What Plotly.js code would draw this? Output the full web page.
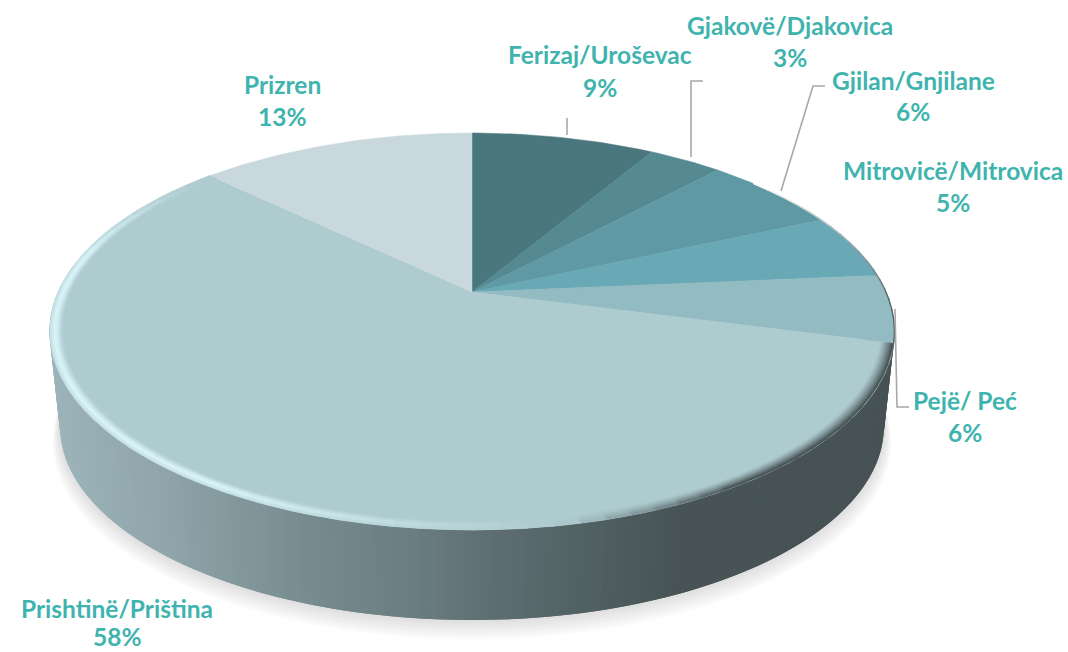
<!DOCTYPE html>
<html><head><meta charset="utf-8">
<script src="https://cdn.plot.ly/plotly-3.0.1.min.js"></script>
<style>html,body{margin:0;padding:0;background:#fff}#c{width:1068px;height:652px}</style>
</head><body><div id="c"></div>
<script>
const categories = ["Ferizaj/Uroševac","Gjakovë/Djakovica","Gjilan/Gnjilane","Mitrovicë/Mitrovica","Pejë/ Peć","Prishtinë/Priština","Prizren"];
const shares = [8.5,3.4,6.4,5.3,5.5,58.1,12.8];
const percentLabels = ["9%","3%","6%","5%","6%","58%","13%"];
const sliceColors = ["#4a777d","#558a93","#5f9aa4","#69a9b5","#92bbc2","#aecbd0","#c8d8dd"];
const labelNameX = [600,790,913,953,965,117,282];
const labelNameY = [54,25,80,170,400,608,84];
const labelPctY  = [87,57,111,202,432,636,116];

// projection of the pie's disc on screen
const CX=472, CY=292, A=414, B=190.6, K=0.199, DEPTH=96, BASE=0.975;
function rimPt(deg,r){
  const t=deg*Math.PI/180,u=r*Math.sin(t),v=r*Math.cos(t),w=1+K*v;
  return [CX+A*u/w, CY-B*v/w];
}
function basePt(deg){
  const p=rimPt(deg,1);
  return [CX+(p[0]-CX)*BASE, CY+(p[1]-CY)*BASE+DEPTH];
}
function hex(c){return [1,3,5].map(i=>parseInt(c.substr(i,2),16));}
function mix(a,b,t){t=Math.max(0,Math.min(1,t));const x=hex(a),y=hex(b);
  return "#"+x.map((v,i)=>Math.round(v+(y[i]-v)*t).toString(16).padStart(2,"0")).join("");}
function ramp(stops,x){
  for(let i=1;i<stops.length;i++){ if(x<=stops[i][0]){
    const s=stops[i-1],e=stops[i];return mix(s[1],e[1],(x-s[0])/(e[0]-s[0]));}}
  return stops[stops.length-1][1];
}
const wallStops=[[0,"#a3bac0"],[150,"#90a6ac"],[300,"#788c90"],[400,"#6b7f82"],[500,"#5c6c70"],[600,"#4f5e60"],[680,"#475355"],[1068,"#465153"]];

const traces=[];
function poly(xs,ys,color,lw){
  traces.push({type:"scatter",mode:"lines",x:xs,y:ys,fill:"toself",fillcolor:color,
    line:{color:color,width:lw},hoverinfo:"skip",showlegend:false});
}
function seg(xs,ys,color,w){
  traces.push({type:"scatter",mode:"lines",x:xs,y:ys,
    line:{color:color,width:w},hoverinfo:"skip",showlegend:false});
}
// soft shadow under the body
const SH=9;
for(let i=SH;i>=1;i--){
  const xs=[],ys=[];
  for(let d=0;d<=360;d+=3){
    const b=basePt(d),f=1+i*0.0022;
    xs.push(CX+(b[0]-CX)*f); ys.push(CY+DEPTH+(b[1]-CY-DEPTH)*f+i*1.9);
  }
  poly(xs,ys,mix("#dcdcdc","#ffffff",i/SH),0.6);
}
// side wall: overlapping strips, so that no seam shows
for(let d=279;d>=84;d-=1){
  const a=rimPt(d,1),b=rimPt(d-2,1),c=basePt(d-2),e=basePt(d);
  poly([a[0],b[0],c[0],e[0],a[0]],[a[1],b[1],c[1],e[1],a[1]],ramp(wallStops,a[0]),0);
}
// slices, sized from the shares
const total=shares.reduce((s,v)=>s+v,0);
const edges=[0];
shares.forEach(v=>edges.push(edges[edges.length-1]+v/total*360));
shares.forEach((v,i)=>{
  const xs=[CX],ys=[CY],n=Math.max(8,Math.ceil(edges[i+1]-edges[i]));
  for(let k=0;k<=n;k++){
    const p=rimPt(edges[i]+(edges[i+1]-edges[i])*k/n,1);xs.push(p[0]);ys.push(p[1]);
  }
  xs.push(CX);ys.push(CY);
  traces.push({type:"scatter",mode:"lines",name:categories[i],x:xs,y:ys,fill:"toself",
    fillcolor:sliceColors[i],line:{color:sliceColors[i],width:0.5},hoverinfo:"name",showlegend:false});
});
// thin dark edge on the right of the top face
for(let d=50;d<edges[5];d+=3){
  const p=rimPt(d,1),q=rimPt(d+3.2,1);
  seg([p[0],q[0]],[p[1],q[1]],mix("#ffffff","#55666a",Math.min(1,(d-50)/40)),1.4);
}
// bevel round the rim of the largest slice
const rings=[0.969,0.973,0.977,0.981,0.985,0.989,0.993,0.997];
const bevelStart=edges[5], bevelEnd=edges[6];
const STEP=3;
rings.forEach((r,j)=>{
  const t=1-(r-0.969)/0.028;           // 0 at the outer edge, 1 at the inner edge
  for(let d=bevelStart;d<bevelEnd-0.5;d+=STEP){
    const mid=d+STEP/2;
    const light=Math.min(1,Math.max(0,(mid-172)/38))*Math.min(1,Math.max(0,(bevelEnd-2-mid)/30));
    const dark=Math.min(1,Math.max(0,(170-mid)/22));
    const prof=t<0.25?0.6+1.6*t:Math.pow(Math.cos((t-0.25)/0.75*Math.PI/2),1.5);
    let col=mix(sliceColors[5],"#d9f4f9",light*prof);
    col=mix(col,"#4a5759",dark*Math.pow(1-t,1.3));
    const p=rimPt(d,r),q=rimPt(Math.min(d+STEP+0.3,bevelEnd),r);
    seg([p[0],q[0]],[p[1],q[1]],col,2.2);
  }
});

const ink="#3fb4ae";
const annotations=[];
categories.forEach((c,i)=>{
  const f={family:"Lato, sans-serif",size:24.5,color:ink};
  annotations.push({xref:"x",yref:"y",x:labelNameX[i],y:labelNameY[i],text:"<b>"+c+"</b>",showarrow:false,font:f,xanchor:"center",yanchor:"middle"});
  annotations.push({xref:"x",yref:"y",x:labelNameX[i],y:labelPctY[i],text:"<b>"+percentLabels[i]+"</b>",showarrow:false,font:f,xanchor:"center",yanchor:"middle"});
});
const grey={color:"#a8a8a8",width:1.6};
const shapes=[
  {type:"path",path:"M567,118 L567,135",line:grey},
  {type:"path",path:"M703,81 L691,81 L691,157",line:grey},
  {type:"path",path:"M825,86 L813,86 L781,191",line:grey},
  {type:"path",path:"M895,309 L897,407 L909,407",line:grey}
].map(s=>Object.assign(s,{xref:"x",yref:"y",layer:"above"}));

const layout={width:1068,height:652,margin:{l:0,r:0,t:0,b:0},paper_bgcolor:"#fff",plot_bgcolor:"#fff",
  showlegend:false,hovermode:"closest",annotations,shapes,
  xaxis:{range:[0,1068],visible:false,fixedrange:true},
  yaxis:{range:[652,0],visible:false,fixedrange:true}};
Plotly.newPlot("c",traces,layout,{displayModeBar:false,staticPlot:true});
</script></body></html>
